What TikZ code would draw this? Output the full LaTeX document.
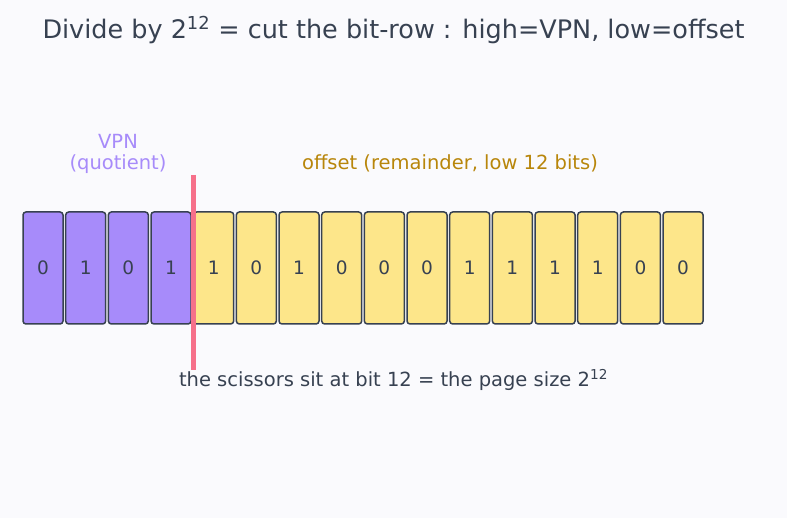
\documentclass[tikz,border=0pt]{standalone}
\usepackage{fontspec}
\setmainfont{DejaVu Sans}
\usetikzlibrary{positioning}
\definecolor{ink}{HTML}{374151}
\definecolor{vpnfill}{HTML}{A78BFA}
\definecolor{offfill}{HTML}{FDE68A}
\definecolor{offtext}{HTML}{B8860B}
\definecolor{cutred}{HTML}{F6708A}
\definecolor{bg}{HTML}{FAFAFD}
\tikzset{
  bitbox/.style={draw=ink, line width=1.5pt, rounded corners=3pt, minimum width=40pt,
    minimum height=112pt, inner sep=0pt, text=ink, font=\fontsize{18.5}{22}\selectfont},
  vpnbit/.style={bitbox, fill=vpnfill},
  offbit/.style={bitbox, fill=offfill},
  lbl/.style={font=\fontsize{19.5}{21.5}\selectfont, align=center}
}

\begin{document}
\begin{tikzpicture}[x=1pt, y=-1pt]
    \fill[bg] (0,0) rectangle (787,518);
    \useasboundingbox (0,0) rectangle (787,518);
    \node[text=ink, font=\fontsize{25.5}{30}\selectfont] (title) at (393.5,30)
        {Divide by 2\textsuperscript{12} = cut the bit-row : high=VPN, low=offset};
    \foreach \v [count=\i] in {0,1,0,1,1,0,1,0,0,0,1,1,1,1,0,0} {
        \ifnum\i<5
            \node[vpnbit] (b\i) at ({43+(\i-1)*42.67},268) {\v};
        \else
            \node[offbit] (b\i) at ({43+(\i-1)*42.67},268) {\v};
        \fi
    }
    \node[lbl, text=vpnfill] (vpn) at (118,154) {VPN\\(quotient)};
    \node[lbl, text=offtext] (off) at (450,163) {offset (remainder, low 12 bits)};
    \coordinate (cuttop) at (193.5,175);
    \coordinate (cutbot) at (193.5,370);
    \draw[cutred, line width=5pt] (cuttop) -- (cutbot);
    \node[lbl, text=ink] (note) at (393.5,380)
        {the scissors sit at bit 12 = the page size 2\textsuperscript{12}};
\end{tikzpicture}
\end{document}
